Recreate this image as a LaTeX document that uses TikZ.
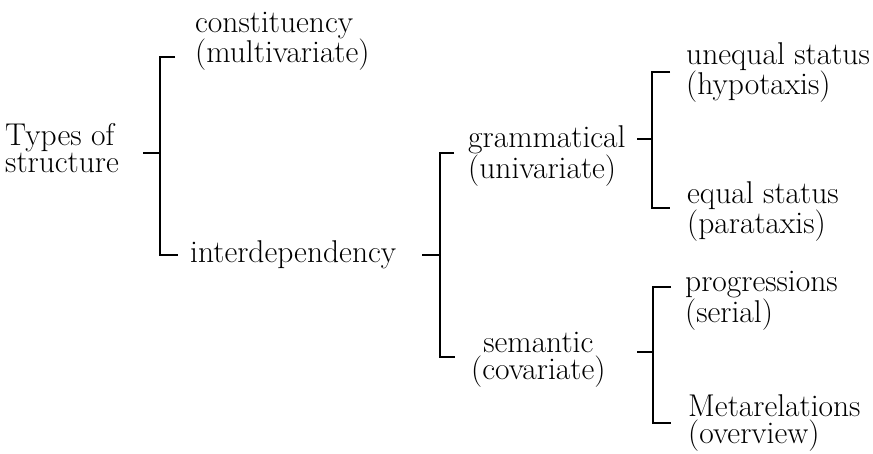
\documentclass[tikz,border=0pt]{standalone}
\tikzset{
  lbl/.style={inner sep=0pt, anchor=base west, font=\fontsize{31.5}{27}\selectfont},
  brk/.style={line width=2.6pt, line cap=butt, line join=miter},
}
\newcommand\twoL[2]{\vtop{\hbox{#1}\hbox{#2}}}
\newcommand\twoC[2]{\vtop{\halign{\hfil##\hfil\cr#1\cr#2\cr}}}
\begin{document}
\begin{tikzpicture}[x=1pt,y=-1pt]
\useasboundingbox (0,0) rectangle (873,453);
% labels
\node[lbl] (types)  at (5,145)   {\twoL{Types of}{structure}};
\node[lbl] (constit) at (195,32) {\twoL{constituency}{(multivariate)}};
\node[lbl] (interdep) at (190,262) {interdependency};
\node[lbl] (gram)   at (468,147) {\twoL{grammatical}{(univariate)}};
\node[lbl] (uneq)   at (686,64)  {\twoL{unequal status}{(hypotaxis)}};
\node[lbl] (eq)     at (687,203) {\twoL{equal status}{(parataxis)}};
\node[lbl] (sem)    at (471,352) {\twoC{semantic}{(covariate)}};
\node[lbl] (prog)   at (685,291) {\twoL{progressions}{(serial)}};
\node[lbl] (meta)   at (688,416) {\twoL{Metarelations}{(overview)}};
% bracket A
\coordinate (Ain) at (143,153); \coordinate (Aj) at (160,153);
\coordinate (At) at (160,57);  \coordinate (Ate) at (175,57);
\coordinate (Ab) at (160,255); \coordinate (Abe) at (178,255);
% bracket B
\coordinate (Bin) at (422,255); \coordinate (Bj) at (440,255);
\coordinate (Bt) at (440,153);  \coordinate (Bte) at (454,153);
\coordinate (Bb) at (440,357);  \coordinate (Bbe) at (455,357);
% bracket C
\coordinate (Cin) at (637,139); \coordinate (Cj) at (652,139);
\coordinate (Ct) at (652,72);   \coordinate (Cte) at (670,72);
\coordinate (Cb) at (652,208);  \coordinate (Cbe) at (670,208);
% bracket D
\coordinate (Din) at (637,352); \coordinate (Dj) at (653,352);
\coordinate (Dt) at (653,287);  \coordinate (Dte) at (671,287);
\coordinate (Db) at (653,423);  \coordinate (Dbe) at (671,423);
\foreach \b in {A,B,C,D}{
  \draw[brk] (\b te) -- (\b t) -- (\b b) -- (\b be);
  \draw[brk] (\b in) -- (\b j);
}
\end{tikzpicture}
\end{document}
